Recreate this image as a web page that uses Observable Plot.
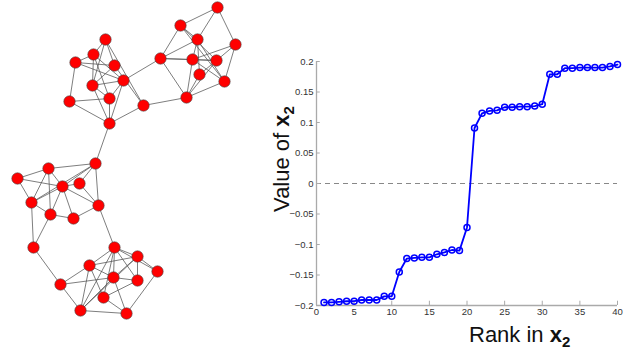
<!DOCTYPE html>
<html>
<head>
<meta charset="utf-8">
<script src="https://cdn.jsdelivr.net/npm/d3@7"></script>
<script src="https://cdn.jsdelivr.net/npm/@observablehq/plot@0.6"></script>
<style>
  html, body { margin: 0; padding: 0; background: #fff; overflow: hidden; }
  #wrap { position: relative; width: 644px; height: 351px; font-family: "Liberation Sans", Arial, sans-serif; }
  #net { position: absolute; left: 0; top: 0; }
  #rank { position: absolute; left: 260px; top: 0; }
</style>
</head>
<body>
<div id="wrap"><div id="net"></div><div id="rank"></div></div>
<script>
// ---- Network layout (node coordinates of the drawn graph layout) ----
const nodeX = [
  105, 93, 75, 114, 123, 92, 109, 69, 143, 109,      // cluster A
  217, 180, 197, 235, 160, 192, 216, 199, 224, 186,  // cluster B
  95, 48, 17, 79, 62, 31, 98, 50, 73, 33,            // cluster D
  114, 137, 157, 89, 113, 137, 60, 103, 80, 126      // cluster E
];
const nodeY = [
  39, 54, 62, 65, 80, 85, 98, 101, 105, 123,
  7, 25, 39, 44, 58, 59, 60, 74, 81, 97,
  163, 168, 178, 183, 186, 202, 205, 214, 218, 247,
  247, 256, 271, 265, 277, 280, 284, 297, 310, 313
];
const edgeFrom = [
  0,0,0,0, 2,2,2,2, 1,1,1, 5,5,5,5, 7,7, 6,6, 4,3, 8, 4, 8, 9,
  10,10,10, 11,11,11, 12,12,12,12, 13,13,13, 14,14,14, 15,15,15, 16,16, 17, 18, 11,
  20,20,20,20,20, 21,21,21,21, 22,22, 23,23, 24,24,24,24, 25,25, 27,27, 28, 26, 29,
  30,30,30,30,30,30,30, 31,31,31,31, 33,33,33,33, 34,34,34,34, 35, 36, 37, 38, 32, 38
];
const edgeTo = [
  1,3,5,8, 1,3,4,7, 5,6,4, 3,4,6,9, 6,9, 9,4, 9,8, 9, 14, 19, 20,
  11,12,13, 14,12,16, 14,15,17,18, 15,16,18, 15,16,19, 16,19,18, 17,19, 19, 19, 18,
  21,23,24,25,26, 22,24,25,27, 25,24, 24,26, 25,27,28,26, 27,29, 28,29, 26, 30, 36,
  31,32,33,34,35,37,38, 33,34,35,32, 36,38,37,34, 35,36,39,38, 37, 38, 39, 39, 39, 31
];

// ---- Sorted Fiedler vector values ----
const ranks = d3.range(1, 41);
const x2Values = [
  -0.195, -0.195, -0.194, -0.193, -0.193, -0.191, -0.191, -0.191, -0.185, -0.185,
  -0.145, -0.123, -0.122, -0.121, -0.121, -0.116, -0.113, -0.109, -0.110, -0.072,
  0.091, 0.115, 0.119, 0.120, 0.125, 0.125, 0.126, 0.126, 0.127, 0.130,
  0.179, 0.179, 0.189, 0.189, 0.190, 0.190, 0.190, 0.190, 0.192, 0.195
];
const xTicks = [0, 5, 10, 15, 20, 25, 30, 35, 40];
const xTickLabels = ["0", "5", "10", "15", "20", "25", "30", "35", "40"];
const yTicks = [-0.2, -0.15, -0.1, -0.05, 0, 0.05, 0.1, 0.15, 0.2];
const yTickLabels = ["\u22120.2", "\u22120.15", "\u22120.1", "\u22120.05", "0", "0.05", "0.1", "0.15", "0.2"];

const FONT = '"Liberation Sans", Arial, sans-serif';

// ---- Left: network ----
const nodes = nodeX.map((x, i) => ({x, y: nodeY[i]}));
const edges = edgeFrom.map((a, i) => ({x1: nodeX[a], y1: nodeY[a], x2: nodeX[edgeTo[i]], y2: nodeY[edgeTo[i]]}));

const net = Plot.plot({
  width: 260, height: 330,
  margin: 0,
  x: {domain: [0, 260], range: [0, 260], axis: null},
  y: {domain: [0, 330], range: [0, 330], axis: null},
  marks: [
    Plot.link(edges, {x1: "x1", y1: "y1", x2: "x2", y2: "y2", stroke: "#555", strokeWidth: 0.9, strokeOpacity: 0.85}),
    Plot.dot(nodes, {x: "x", y: "y", r: 5.7, fill: "#ff0000", stroke: "#444", strokeWidth: 0.6})
  ]
});
document.getElementById("net").appendChild(net);

// ---- Right: rank plot ----
const rows = ranks.map((r, i) => ({rank: r, value: x2Values[i]}));
const rank = Plot.plot({
  width: 384, height: 351,
  marginLeft: 56, marginRight: 27, marginTop: 61, marginBottom: 46,
  style: {fontFamily: FONT, background: "transparent"},
  x: {domain: [0, 40]},
  y: {domain: [-0.2, 0.2]},
  marks: [
    Plot.axisY(yTicks, {tickSize: 0, tickPadding: 3, fontSize: 9.5, color: "#333", label: null,
      tickFormat: d => yTickLabels[yTicks.indexOf(d)]}),
    Plot.axisX(xTicks, {tickSize: 0, tickPadding: 3, fontSize: 9.5, color: "#333", label: null,
      tickFormat: d => xTickLabels[xTicks.indexOf(d)]}),
    Plot.ruleY([0], {stroke: "#888", strokeWidth: 1, strokeDasharray: "5,4"}),
    Plot.ruleX([0], {y1: -0.2, y2: 0.2, stroke: "#aaa", strokeWidth: 1.3}),
    Plot.ruleY([-0.2], {x1: 0, x2: 40, stroke: "#aaa", strokeWidth: 1.3}),
    Plot.ruleY(yTicks, {x1: 0, x2: 0.5, stroke: "#aaa", strokeWidth: 1}),
    Plot.ruleX(xTicks, {y1: -0.2, y2: -0.193, stroke: "#aaa", strokeWidth: 1}),
    Plot.line(rows, {x: "rank", y: "value", stroke: "#0000ff", strokeWidth: 1.8}),
    Plot.dot(rows, {x: "rank", y: "value", r: 3, stroke: "#0000ff", strokeWidth: 1.5, fill: "none"})
  ]
});
document.getElementById("rank").appendChild(rank);

// Axis titles with bold subscripted variable
const svg = d3.select(rank);
const yl = svg.append("text")
  .attr("transform", "translate(29,159) rotate(-90)")
  .attr("text-anchor", "middle")
  .attr("font-family", FONT).attr("font-size", 22).attr("fill", "#111");
yl.append("tspan").text("Value of ");
yl.append("tspan").attr("font-weight", "bold").text("x");
yl.append("tspan").attr("font-weight", "bold").attr("font-size", 15).attr("dy", 5).text("2");

const xl = svg.append("text")
  .attr("x", 209).attr("y", 342)
  .attr("text-anchor", "start")
  .attr("font-family", FONT).attr("font-size", 22).attr("fill", "#111");
xl.append("tspan").text("Rank in ");
xl.append("tspan").attr("font-weight", "bold").text("x");
xl.append("tspan").attr("font-weight", "bold").attr("font-size", 15).attr("dy", 5).text("2");
</script>
</body>
</html>
